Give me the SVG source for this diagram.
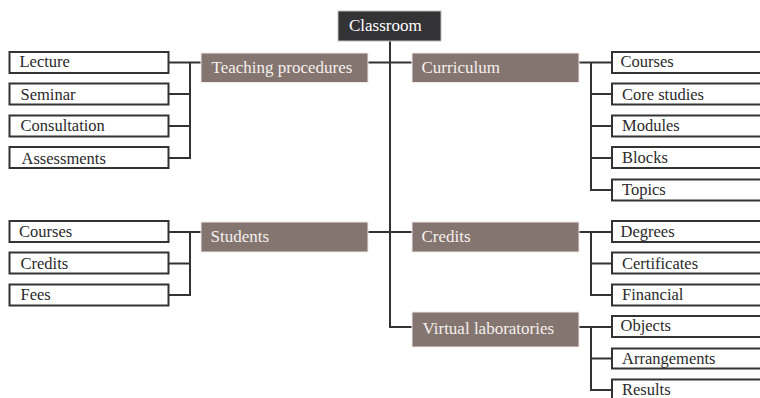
<svg xmlns="http://www.w3.org/2000/svg" width="760" height="398" viewBox="0 0 760 398">
<style>
  text { font-family: 'Liberation Serif', 'Tinos', 'DejaVu Serif', 'Noto Serif', serif; }
  .leaf rect { fill: #ffffff; stroke: #333333; stroke-width: 2; }
  .leaf text { font-size: 16.5px; fill: #2a2a2a; }
  .mid rect { fill: #857570; stroke: #efe9e7; stroke-width: 1; }
  .mid text { font-size: 17px; fill: #f4f0ee; }
  .root rect { fill: #333336; stroke: #bdbdbd; stroke-width: 1; }
  .root text { font-size: 17px; fill: #ffffff; }
  .conn { fill: none; stroke: #333333; stroke-width: 2; }
</style>
<g id="connectors" class="conn">
  <path d="M390 41 V327 H412"/>
  <path d="M368 62.5 H412"/>
  <path d="M368 232 H412"/>
  <path d="M168 62.5 H201"/>
  <path d="M190 62.5 V158 H168"/>
  <path d="M168 94 H190"/>
  <path d="M168 126 H190"/>
  <path d="M168 232 H201"/>
  <path d="M190 232 V295 H168"/>
  <path d="M168 263.5 H190"/>
  <path d="M579 62.5 H612"/>
  <path d="M591 62.5 V190 H612"/>
  <path d="M591 94 H612"/>
  <path d="M591 126 H612"/>
  <path d="M591 158 H612"/>
  <path d="M579 232 H612"/>
  <path d="M591 232 V295 H612"/>
  <path d="M591 263.5 H612"/>
  <path d="M579 327 H612"/>
  <path d="M591 327 V390 H612"/>
  <path d="M591 358.5 H612"/>
</g>
<g id="classroom" class="root"><rect x="338" y="11" width="103" height="30"/><text x="349" y="31">Classroom</text></g>
<g id="teaching" class="mid"><rect x="201" y="53" width="167" height="29.5"/><text x="211.5" y="73">Teaching procedures</text></g>
<g id="curriculum" class="mid"><rect x="412" y="53" width="167" height="29.5"/><text x="421.5" y="73">Curriculum</text></g>
<g id="students" class="mid"><rect x="201" y="222" width="167" height="30"/><text x="210.5" y="242">Students</text></g>
<g id="credits" class="mid"><rect x="412" y="222" width="167" height="30"/><text x="421.5" y="242">Credits</text></g>
<g id="virtual" class="mid"><rect x="412" y="312" width="167" height="35"/><text x="422.5" y="333.5">Virtual laboratories</text></g>
<g id="lecture" class="leaf"><rect x="9.5" y="52" width="159" height="21"/><text x="19.5" y="67">Lecture</text></g>
<g id="seminar" class="leaf"><rect x="9.5" y="83.5" width="159" height="21"/><text x="20.5" y="99.5">Seminar</text></g>
<g id="consultation" class="leaf"><rect x="9.5" y="115.5" width="159" height="21"/><text x="20.5" y="130.5">Consultation</text></g>
<g id="assessments" class="leaf"><rect x="9.5" y="147" width="159" height="21"/><text x="21.5" y="163.5">Assessments</text></g>
<g id="s-courses" class="leaf"><rect x="9.5" y="221" width="159" height="21"/><text x="19" y="236.5">Courses</text></g>
<g id="s-credits" class="leaf"><rect x="9.5" y="252.5" width="159" height="21"/><text x="20.5" y="268.5">Credits</text></g>
<g id="s-fees" class="leaf"><rect x="9.5" y="284.5" width="159" height="21"/><text x="20.5" y="300">Fees</text></g>
<g id="c-courses" class="leaf"><rect x="612" y="52" width="160" height="21"/><text x="620.5" y="67">Courses</text></g>
<g id="c-core" class="leaf"><rect x="612" y="83.5" width="160" height="21"/><text x="622" y="100">Core studies</text></g>
<g id="c-modules" class="leaf"><rect x="612" y="115.5" width="160" height="21"/><text x="622" y="131">Modules</text></g>
<g id="c-blocks" class="leaf"><rect x="612" y="147" width="160" height="21"/><text x="622" y="162.5">Blocks</text></g>
<g id="c-topics" class="leaf"><rect x="612" y="179.5" width="160" height="21"/><text x="622" y="195">Topics</text></g>
<g id="cr-degrees" class="leaf"><rect x="612" y="221" width="160" height="21"/><text x="620.5" y="236.5">Degrees</text></g>
<g id="cr-certificates" class="leaf"><rect x="612" y="252.5" width="160" height="21"/><text x="622" y="268.5">Certificates</text></g>
<g id="cr-financial" class="leaf"><rect x="612" y="284.5" width="160" height="21"/><text x="622" y="299.5">Financial</text></g>
<g id="v-objects" class="leaf"><rect x="612" y="316" width="160" height="21"/><text x="620.5" y="331">Objects</text></g>
<g id="v-arrangements" class="leaf"><rect x="612" y="348.5" width="160" height="20"/><text x="622" y="364">Arrangements</text></g>
<g id="v-results" class="leaf"><rect x="612" y="379.5" width="160" height="21"/><text x="622" y="395">Results</text></g>
</svg>
